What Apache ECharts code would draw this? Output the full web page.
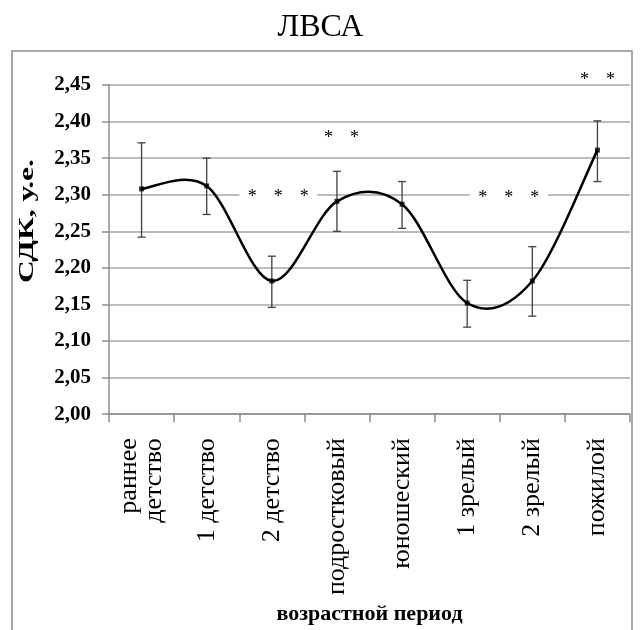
<!DOCTYPE html>
<html><head><meta charset="utf-8">
<script src="https://cdn.jsdelivr.net/npm/echarts@6/dist/echarts.min.js"></script>
<style>html,body{margin:0;padding:0;background:#fff}#c{width:641px;height:630px}</style>
</head><body><div id="c"></div>
<script>
const categories = ['раннее\nдетство', '1 детство', '2 детство', 'подростковый', 'юношеский', '1 зрелый', '2 зрелый', 'пожилой'];
const meanValues = [2.308, 2.312, 2.182, 2.291, 2.287, 2.152, 2.182, 2.361];
const lowValues  = [2.242, 2.273, 2.146, 2.250, 2.254, 2.119, 2.134, 2.318];
const highValues = [2.371, 2.350, 2.216, 2.332, 2.318, 2.183, 2.229, 2.401];
const sigStars = [3, 2, 3, 2];
const sigX = [2.1, 3.07, 5.64, 7.0];
const sigY = [2.3034, 2.384, 2.3026, 2.463];

const FONT = "'Liberation Serif','Times New Roman',serif";
const chart = echarts.init(document.getElementById('c'), null, {renderer: 'canvas'});

chart.setOption({
  animation: false,
  backgroundColor: '#fff',
  title: {text: 'ЛВСА', left: 'center', top: 7,
    textStyle: {fontFamily: FONT, fontWeight: 'normal', fontSize: 32, color: '#000'}},
  graphic: [
    {type: 'rect', shape: {x: 12, y: 51, width: 620, height: 620},
      style: {fill: 'none', stroke: '#8c8c8c', lineWidth: 1.5}, silent: true},
    {type: 'text', x: 28, y: 221, rotation: Math.PI / 2, scaleX: 1.5, silent: true,
      style: {text: 'СДК, у.е.', align: 'center', verticalAlign: 'middle',
        font: "bold 21px 'Liberation Serif', serif", fill: '#000'}}
  ],
  grid: {left: 109, right: 11, top: 85, bottom: 214},
  xAxis: [{
    type: 'category', data: categories, boundaryGap: true,
    axisLine: {lineStyle: {color: '#8c8c8c', width: 1.5}},
    axisTick: {show: true, length: 8, lineStyle: {color: '#8c8c8c', width: 1.5}},
    axisLabel: {rotate: 90, margin: 24, interval: 0, fontFamily: FONT, fontSize: 26, color: '#000', lineHeight: 25},
    splitLine: {show: false},
    name: 'возрастной период', nameLocation: 'middle', nameGap: 181,
    nameTextStyle: {fontFamily: FONT, fontWeight: 'bold', fontSize: 22, color: '#000'}
  }, {type: 'value', min: -0.5, max: 7.5, show: false}],
  yAxis: {
    type: 'value', min: 2.0, max: 2.45, interval: 0.05,
    axisLine: {show: true, onZero: false, lineStyle: {color: '#8c8c8c', width: 1.5}},
    axisTick: {show: true, length: 7, lineStyle: {color: '#8c8c8c', width: 1.5}},
    axisLabel: {formatter: v => v.toFixed(2).replace('.', ','), fontFamily: FONT, fontWeight: 'bold', fontSize: 21, color: '#000', margin: 18},
    splitLine: {lineStyle: {color: '#a6a6a6', width: 1.5}}
  },
  series: [
    {
      type: 'custom', xAxisIndex: 0, yAxisIndex: 0, z: 2,
      data: categories.map((c, i) => [i, lowValues[i], highValues[i]]),
      renderItem: function (params, api) {
        const lo = api.coord([api.value(0), api.value(1)]);
        const hi = api.coord([api.value(0), api.value(2)]);
        const st = {stroke: '#404040', lineWidth: 1.3};
        return {type: 'group', children: [
          {type: 'line', shape: {x1: lo[0], y1: lo[1], x2: hi[0], y2: hi[1]}, style: st},
          {type: 'line', shape: {x1: lo[0] - 4, y1: lo[1], x2: lo[0] + 4, y2: lo[1]}, style: st},
          {type: 'line', shape: {x1: hi[0] - 4, y1: hi[1], x2: hi[0] + 4, y2: hi[1]}, style: st}
        ]};
      }
    },
    {
      // smoothed curve (Catmull-Rom style, as in spreadsheet smoothing) through the mean values
      type: 'custom', xAxisIndex: 0, yAxisIndex: 0, z: 3,
      data: [[0, meanValues[0]]],
      renderItem: function (params, api) {
        const pts = meanValues.map((v, i) => api.coord([i, v]));
        const n = pts.length;
        let d = 'M' + pts[0][0] + ' ' + pts[0][1];
        for (let i = 0; i < n - 1; i++) {
          const p0 = pts[Math.max(i - 1, 0)], p1 = pts[i], p2 = pts[i + 1], p3 = pts[Math.min(i + 2, n - 1)];
          const c1x = p1[0] + (p2[0] - p0[0]) / 6, c1y = p1[1] + (p2[1] - p0[1]) / 6;
          const c2x = p2[0] - (p3[0] - p1[0]) / 6, c2y = p2[1] - (p3[1] - p1[1]) / 6;
          d += ' C' + c1x + ' ' + c1y + ' ' + c2x + ' ' + c2y + ' ' + p2[0] + ' ' + p2[1];
        }
        return {type: 'path', shape: {pathData: d}, style: {fill: 'none', stroke: '#000', lineWidth: 2.5}};
      }
    },
    {
      type: 'scatter', data: meanValues, z: 4,
      symbol: 'rect', symbolSize: 5,
      itemStyle: {color: '#000'}
    },
    {
      type: 'custom', xAxisIndex: 1, yAxisIndex: 0, z: 5, clip: false,
      data: sigX.map((x, i) => [x, sigY[i], sigStars[i]]),
      renderItem: function (params, api) {
        const c = api.coord([api.value(0), api.value(1)]);
        const n = api.value(2);
        const step = 26;
        const children = [{type: 'rect', shape: {x: c[0] - n * step / 2, y: c[1] - 4, width: n * step, height: 8}, style: {fill: '#fff'}}];
        for (let k = 0; k < n; k++) {
          children.push({type: 'text', style: {text: '*', x: c[0] + (k - (n - 1) / 2) * step, y: c[1] + 5,
            align: 'center', verticalAlign: 'middle', font: "18px 'Liberation Serif', serif", fill: '#000'}});
        }
        return {type: 'group', children: children};
      }
    }
  ]
});
</script>
</body></html>
